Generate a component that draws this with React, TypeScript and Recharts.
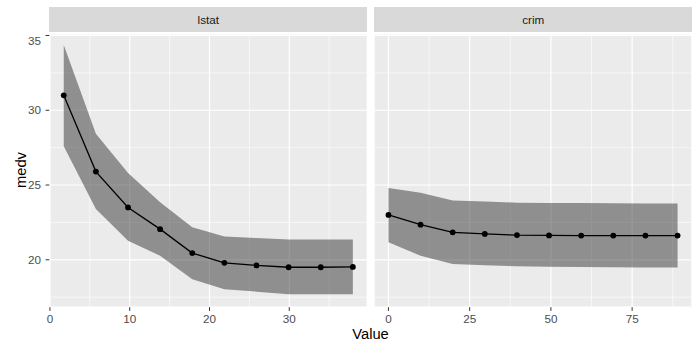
import React from "react";
import { Area, CartesianGrid, ComposedChart, Line, XAxis, YAxis } from "recharts";

const lstatX = [1.73, 5.76, 9.79, 13.81, 17.84, 21.87, 25.89, 29.92, 33.95, 37.97];
const lstatMedv = [31.0, 25.9, 23.5, 22.05, 20.45, 19.8, 19.62, 19.5, 19.5, 19.52];
const lstatUpper = [34.37, 28.43, 25.8, 23.85, 22.17, 21.55, 21.45, 21.35, 21.35, 21.35];
const lstatLower = [27.6, 23.4, 21.28, 20.27, 18.7, 18.03, 17.87, 17.7, 17.69, 17.69];

const crimX = [0.01, 9.89, 19.78, 29.66, 39.55, 49.43, 59.32, 69.2, 79.09, 88.98];
const crimMedv = [23.0, 22.35, 21.84, 21.73, 21.65, 21.63, 21.62, 21.62, 21.62, 21.62];
const crimUpper = [24.8, 24.48, 23.97, 23.9, 23.82, 23.8, 23.79, 23.78, 23.77, 23.77];
const crimLower = [21.17, 20.27, 19.71, 19.63, 19.57, 19.54, 19.52, 19.5, 19.49, 19.48];

const yTicks = [20, 25, 30, 35];
const yMinor = [17.5, 22.5, 27.5, 32.5];
const lstatTicks = [0, 10, 20, 30];
const lstatMinor = [5, 15, 25, 35];
const crimTicks = [0, 25, 50, 75];
const crimMinor = [12.5, 37.5, 62.5, 87.5];

const Y_DOMAIN: [number, number] = [16.83, 35.1];
const FONT = '"Liberation Sans", Arial, sans-serif';

const build = (xs: number[], ys: number[], lo: number[], hi: number[]) =>
  xs.map((x, i) => ({ x, y: ys[i], lo: lo[i], hi: hi[i] }));

const lstatData = build(lstatX, lstatMedv, lstatLower, lstatUpper);
const crimData = build(crimX, crimMedv, crimLower, crimUpper);

type PanelProps = {
  data: { x: number; y: number; lo: number; hi: number }[];
  domain: [number, number];
  ticks: number[];
  minor: number[];
  showY: boolean;
  width: number;
};

function Panel({ data, domain, ticks, minor, showY, width }: PanelProps) {
  const tickStyle = { fill: "#4d4d4d", fontSize: 11.7, fontFamily: FONT };
  return (
    <ComposedChart width={width} height={303.2} data={data} margin={{ top: 0, right: 0, bottom: 0, left: 0 }}>
      <CartesianGrid xAxisId="minor" yAxisId="minor" fill="#ebebeb" stroke="#ffffff" strokeWidth={0.6} />
      <CartesianGrid stroke="#ffffff" strokeWidth={1.2} fill="none" />
      <XAxis xAxisId="minor" type="number" dataKey="x" domain={domain} allowDataOverflow ticks={minor} hide />
      <YAxis yAxisId="minor" type="number" domain={Y_DOMAIN} allowDataOverflow ticks={yMinor} hide />
      <XAxis
        type="number"
        dataKey="x"
        domain={domain}
        allowDataOverflow
        ticks={ticks}
        height={30}
        axisLine={false}
        tickSize={3.7}
        tickMargin={3.5}
        tickLine={{ stroke: "#333333", strokeWidth: 1 }}
        tick={tickStyle}
      />
      <YAxis
        type="number"
        domain={Y_DOMAIN}
        allowDataOverflow
        ticks={yTicks}
        hide={!showY}
        width={49.3}
        axisLine={false}
        tickSize={3.7}
        tickMargin={4.5}
        tickLine={{ stroke: "#333333", strokeWidth: 1 }}
        tick={tickStyle}
      />
      <Area
        type="linear"
        dataKey={(d: any) => [d.lo, d.hi]}
        stroke="none"
        fill="#333333"
        fillOpacity={0.5}
        isAnimationActive={false}
        activeDot={false}
      />
      <Line
        type="linear"
        dataKey="y"
        stroke="#000000"
        strokeWidth={1.3}
        dot={{ r: 2.9, fill: "#000000", stroke: "#000000", strokeWidth: 0 }}
        activeDot={false}
        isAnimationActive={false}
      />
    </ComposedChart>
  );
}

const stripStyle: React.CSSProperties = {
  position: "absolute",
  top: 7.3,
  height: 25,
  width: 318,
  background: "#d9d9d9",
  color: "#1a1a1a",
  fontSize: 11.7,
  fontFamily: FONT,
  display: "flex",
  alignItems: "center",
  justifyContent: "center",
};

export default function App() {
  return (
    <div style={{ position: "absolute", left: 0, top: 0, width: 700, height: 350, background: "#ffffff", fontFamily: FONT }}>
      <div style={{ ...stripStyle, left: 49.3 }}>lstat</div>
      <div style={{ ...stripStyle, left: 374.3 }}>crim</div>
      <div style={{ position: "absolute", left: 0, top: 33.5 }}>
        <Panel data={lstatData} domain={[-0.08, 39.78]} ticks={lstatTicks} minor={lstatMinor} showY width={367.3} />
      </div>
      <div style={{ position: "absolute", left: 374.3, top: 33.5 }}>
        <Panel data={crimData} domain={[-4.44, 93.42]} ticks={crimTicks} minor={crimMinor} showY={false} width={318} />
      </div>
      <div
        style={{
          position: "absolute",
          left: 21,
          top: 170,
          transform: "translate(-50%, -50%) rotate(-90deg)",
          fontSize: 14.7,
          color: "#000000",
          whiteSpace: "nowrap",
        }}
      >
        medv
      </div>
      <div
        style={{
          position: "absolute",
          left: 370.5,
          top: 334,
          transform: "translate(-50%, -50%)",
          fontSize: 14.7,
          color: "#000000",
          whiteSpace: "nowrap",
        }}
      >
        Value
      </div>
    </div>
  );
}
